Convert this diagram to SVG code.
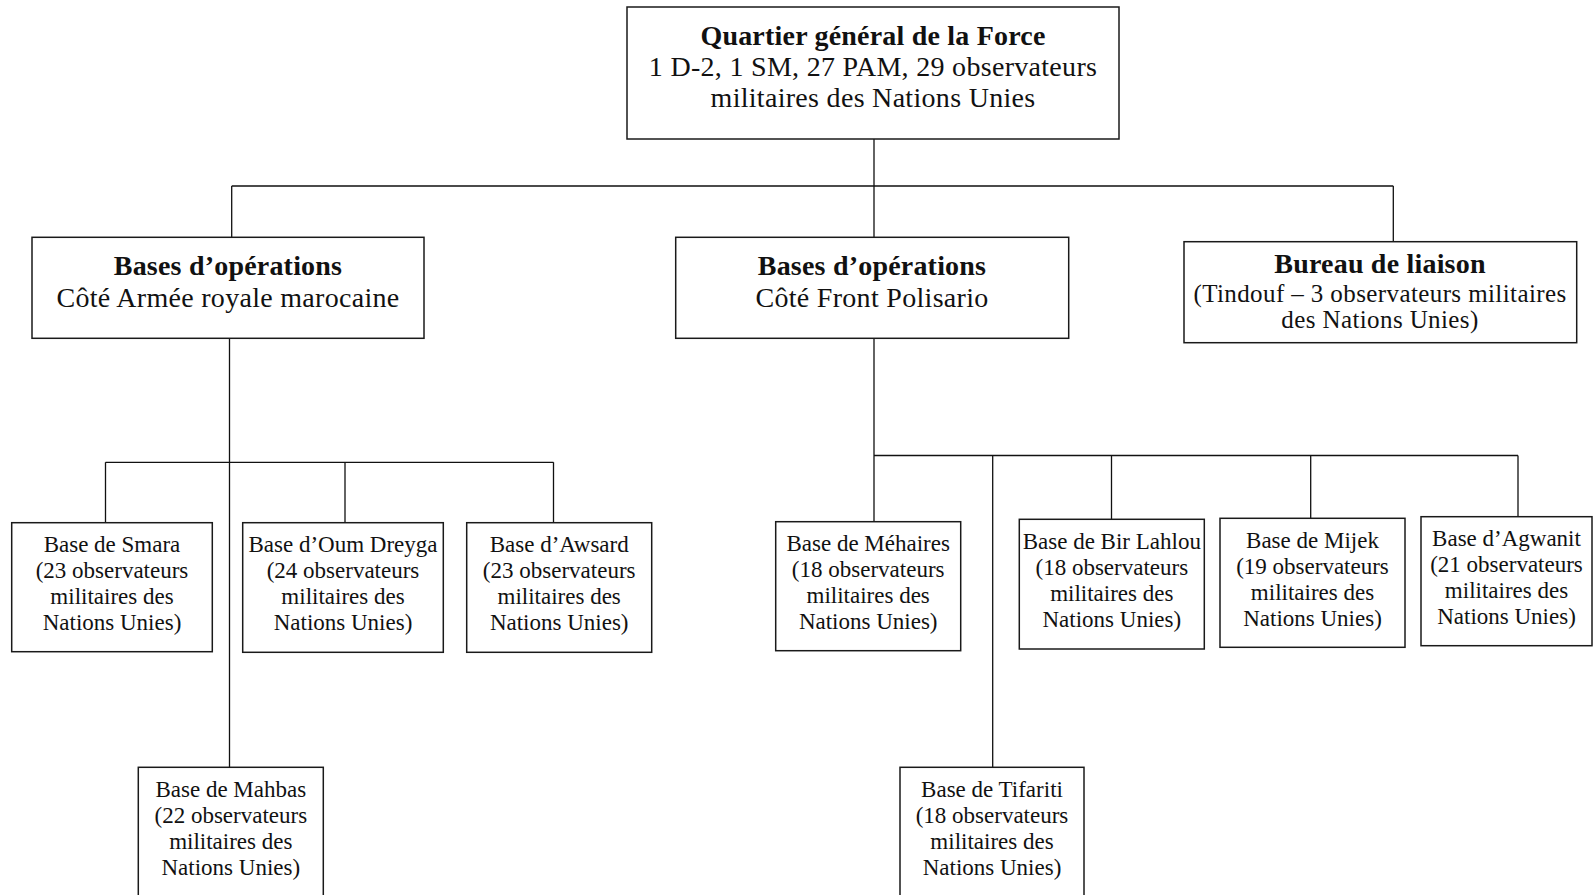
<svg xmlns="http://www.w3.org/2000/svg" width="1593" height="895" viewBox="0 0 1593 895">
<style>
.box{fill:#fff;stroke:#1a1a1a;stroke-width:1.5}
.ln{fill:none;stroke:#111;stroke-width:1.3}
text{font-family:"Liberation Serif","Times New Roman",serif;fill:#111;text-anchor:middle}
.b28{font-size:28px;font-weight:bold;letter-spacing:0.2px}
.r28{font-size:28px;letter-spacing:0.3px}
.r25{font-size:25px;letter-spacing:0.4px}
.r23{font-size:23px}
</style>
<rect x="0" y="0" width="1593" height="895" fill="#fff"/>
<g id="connectors">
<path class="ln" d="M874 139V237.3M231.7 186H1393.3M231.7 186V237.3M1393.3 186V241.7"/>
<path class="ln" d="M229.5 338.3V767.3M105.5 462.3H553.5M105.5 462.3V522.7M345 462.3V522.7M553.5 462.3V522.7"/>
<path class="ln" d="M874 338.3V521.7M874 455.5H1518M992.7 455.5V767.3M1111.5 455.5V519.3M1310.7 455.5V518.3M1518 455.5V516.7"/>
</g>
<g id="hq">
<rect class="box" x="627" y="7" width="492" height="132"/>
<text class="b28" x="873" y="45">Quartier général de la Force</text>
<text class="r28" x="873" y="76">1 D-2, 1 SM, 27 PAM, 29 observateurs</text>
<text class="r28" x="873" y="107">militaires des Nations Unies</text>
</g>
<g id="ops-marocaine">
<rect class="box" x="32" y="237.3" width="392" height="101"/>
<text class="b28" x="228" y="275">Bases d’opérations</text>
<text class="r28" x="228" y="307">Côté Armée royale marocaine</text>
</g>
<g id="ops-polisario">
<rect class="box" x="675.7" y="237.3" width="393" height="101"/>
<text class="b28" x="872" y="275">Bases d’opérations</text>
<text class="r28" x="872" y="307">Côté Front Polisario</text>
</g>
<g id="liaison">
<rect class="box" x="1184" y="241.7" width="392.7" height="101"/>
<text class="b28" x="1380" y="273.3">Bureau de liaison</text>
<text class="r25" x="1380" y="301.7">(Tindouf – 3 observateurs militaires</text>
<text class="r25" x="1380" y="328.3">des Nations Unies)</text>
</g>
<g id="smara">
<rect class="box" x="11.7" y="522.7" width="200.6" height="129"/>
<text class="r23" x="112" y="552">Base de Smara</text>
<text class="r23" x="112" y="578">(23 observateurs</text>
<text class="r23" x="112" y="604">militaires des</text>
<text class="r23" x="112" y="630">Nations Unies)</text>
</g>
<g id="oum-dreyga">
<rect class="box" x="242.7" y="522.7" width="200.6" height="129.6"/>
<text class="r23" x="343" y="552">Base d’Oum Dreyga</text>
<text class="r23" x="343" y="578">(24 observateurs</text>
<text class="r23" x="343" y="604">militaires des</text>
<text class="r23" x="343" y="630">Nations Unies)</text>
</g>
<g id="awsard">
<rect class="box" x="466.7" y="522.7" width="185" height="129.6"/>
<text class="r23" x="559.2" y="552">Base d’Awsard</text>
<text class="r23" x="559.2" y="578">(23 observateurs</text>
<text class="r23" x="559.2" y="604">militaires des</text>
<text class="r23" x="559.2" y="630">Nations Unies)</text>
</g>
<g id="mahbas">
<rect class="box" x="138.3" y="767.3" width="185" height="132"/>
<text class="r23" x="230.8" y="796.6">Base de Mahbas</text>
<text class="r23" x="230.8" y="822.6">(22 observateurs</text>
<text class="r23" x="230.8" y="848.6">militaires des</text>
<text class="r23" x="230.8" y="874.6">Nations Unies)</text>
</g>
<g id="mehaires">
<rect class="box" x="775.7" y="521.7" width="185" height="129"/>
<text class="r23" x="868.2" y="551">Base de Méhaires</text>
<text class="r23" x="868.2" y="577">(18 observateurs</text>
<text class="r23" x="868.2" y="603">militaires des</text>
<text class="r23" x="868.2" y="629">Nations Unies)</text>
</g>
<g id="tifariti">
<rect class="box" x="900" y="767.3" width="184" height="132"/>
<text class="r23" x="992" y="796.6">Base de Tifariti</text>
<text class="r23" x="992" y="822.6">(18 observateurs</text>
<text class="r23" x="992" y="848.6">militaires des</text>
<text class="r23" x="992" y="874.6">Nations Unies)</text>
</g>
<g id="bir-lahlou">
<rect class="box" x="1019.3" y="519.3" width="185" height="129.7"/>
<text class="r23" x="1111.8" y="548.6">Base de Bir Lahlou</text>
<text class="r23" x="1111.8" y="574.6">(18 observateurs</text>
<text class="r23" x="1111.8" y="600.6">militaires des</text>
<text class="r23" x="1111.8" y="626.6">Nations Unies)</text>
</g>
<g id="mijek">
<rect class="box" x="1220" y="518.3" width="185" height="129"/>
<text class="r23" x="1312.5" y="547.6">Base de Mijek</text>
<text class="r23" x="1312.5" y="573.6">(19 observateurs</text>
<text class="r23" x="1312.5" y="599.6">militaires des</text>
<text class="r23" x="1312.5" y="625.6">Nations Unies)</text>
</g>
<g id="agwanit">
<rect class="box" x="1421" y="516.7" width="171" height="129"/>
<text class="r23" x="1506.5" y="546">Base d’Agwanit</text>
<text class="r23" x="1506.5" y="572">(21 observateurs</text>
<text class="r23" x="1506.5" y="598">militaires des</text>
<text class="r23" x="1506.5" y="624">Nations Unies)</text>
</g>
</svg>
